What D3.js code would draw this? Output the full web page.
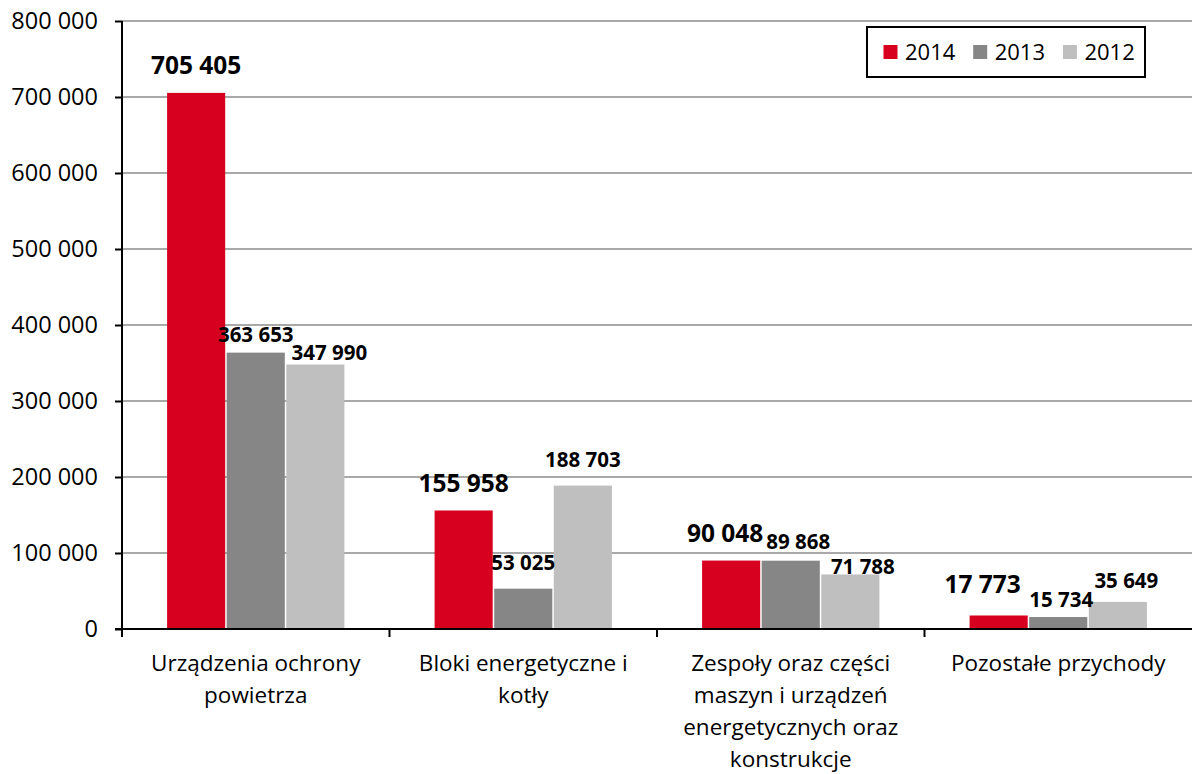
<!DOCTYPE html>
<html><head><meta charset="utf-8">
<script src="https://cdn.jsdelivr.net/npm/d3@7"></script>
<style>body{margin:0;background:#fff;} svg{display:block;font-family:"Open Sans",sans-serif;}</style>
</head><body><svg id="c" width="1192" height="774"></svg>
<script>
const categories = [
  ["Urządzenia ochrony", "powietrza"],
  ["Bloki energetyczne i", "kotły"],
  ["Zespoły oraz części", "maszyn i urządzeń", "energetycznych oraz", "konstrukcje"],
  ["Pozostałe przychody"]
];
const seriesNames = ["2014", "2013", "2012"];
const values2014 = [705405, 155958, 90048, 17773];
const values2013 = [363653, 53025, 89868, 15734];
const values2012 = [347990, 188703, 71788, 35649];
const yTicks = [0, 100000, 200000, 300000, 400000, 500000, 600000, 700000, 800000];
const colors = ["#d7001f", "#868686", "#bfbfbf"];
// label nudges [category][series] -> [dx, dy] (layout only)
const nudges = {"0-1":[0,7.5],"0-2":[14,14],"2-0":[-6,0],"2-1":[7.5,7],"2-2":[12.5,18],"3-0":[-16,-3.5],"3-1":[3,8],"3-2":[8.5,5]};

const series = [values2014, values2013, values2012];
const svg = d3.select("#c");
const L = 122, R = 1192, T = 21, B = 629;
const x = d3.scaleBand().domain(d3.range(categories.length)).range([L, R]).paddingInner(0).paddingOuter(0);
const inner = d3.scaleBand().domain(d3.range(series.length)).range([0, x.bandwidth()]).paddingInner(0).paddingOuter(0.744);
const y = d3.scaleLinear().domain([0, 800000]).range([B, T]);
const fmt = v => d3.format(",")(v).replace(/,/g, " ");

// gridlines
svg.append("g").selectAll("line").data(yTicks.filter(d => d > 0)).join("line")
  .attr("x1", L).attr("x2", R).attr("y1", d => y(d)).attr("y2", d => y(d))
  .attr("stroke", "#8c8c8c").attr("stroke-width", 1.6);

// y axis
const ya = svg.append("g").attr("transform", `translate(${L},0)`)
  .call(d3.axisLeft(y).tickValues(yTicks).tickSize(7).tickPadding(17).tickFormat(fmt));
ya.select(".domain").remove();
ya.selectAll(".tick line").attr("stroke", "#000").attr("stroke-width", 2);
ya.selectAll(".tick text").attr("font-size", 23.5).attr("font-family", "Open Sans").attr("fill", "#000");
svg.append("line").attr("x1", L).attr("x2", L).attr("y1", T).attr("y2", B + 1).attr("stroke", "#000").attr("stroke-width", 2);

// bars
const groups = svg.append("g").selectAll("g").data(categories).join("g")
  .attr("transform", (d, i) => `translate(${x(i)},0)`);
groups.each(function(c, ci) {
  const g = d3.select(this);
  series.forEach((s, si) => {
    g.append("rect")
      .attr("x", inner(si) + 0.75).attr("width", inner.bandwidth() - 1.5)
      .attr("y", y(s[ci])).attr("height", B - y(s[ci]))
      .attr("fill", colors[si]);
  });
});

// x axis
svg.append("line").attr("x1", L - 7).attr("x2", R).attr("y1", B).attr("y2", B).attr("stroke", "#000").attr("stroke-width", 2.2);
svg.append("g").selectAll("line").data(d3.range(categories.length)).join("line")
  .attr("x1", i => x(i)).attr("x2", i => x(i)).attr("y1", B).attr("y2", B + 8)
  .attr("stroke", "#000").attr("stroke-width", 2);

// category labels
groups.each(function(c, ci) {
  const t = d3.select(this).append("text")
    .attr("text-anchor", "middle").attr("font-size", 22.5).attr("fill", "#000");
  c.forEach((line, li) => {
    t.append("tspan").attr("x", x.bandwidth() / 2).attr("y", 671 + li * 32).text(line);
  });
});

// data labels
groups.each(function(c, ci) {
  const g = d3.select(this);
  series.forEach((s, si) => {
    const n = nudges[ci + "-" + si] || [0, 0];
    g.append("text")
      .attr("x", inner(si) + inner.bandwidth() / 2 + n[0])
      .attr("y", y(s[ci]) - 18.5 + n[1])
      .attr("text-anchor", "middle")
      .attr("font-weight", "bold")
      .attr("font-size", si === 0 ? 24.5 : 20.5)
      .attr("fill", "#000")
      .text(fmt(s[ci]));
  });
});

// legend
const lg = svg.append("g");
lg.append("rect").attr("x", 867).attr("y", 27).attr("width", 278).attr("height", 50)
  .attr("fill", "#fff").attr("stroke", "#000").attr("stroke-width", 2);
seriesNames.forEach((n, i) => {
  const lx = 883.5 + i * 89.7;
  lg.append("rect").attr("x", lx).attr("y", 45).attr("width", 14).attr("height", 14).attr("fill", colors[i]);
  lg.append("text").attr("x", lx + 21.5).attr("y", 60).attr("font-size", 22).attr("fill", "#000").text(n);
});
</script></body></html>
